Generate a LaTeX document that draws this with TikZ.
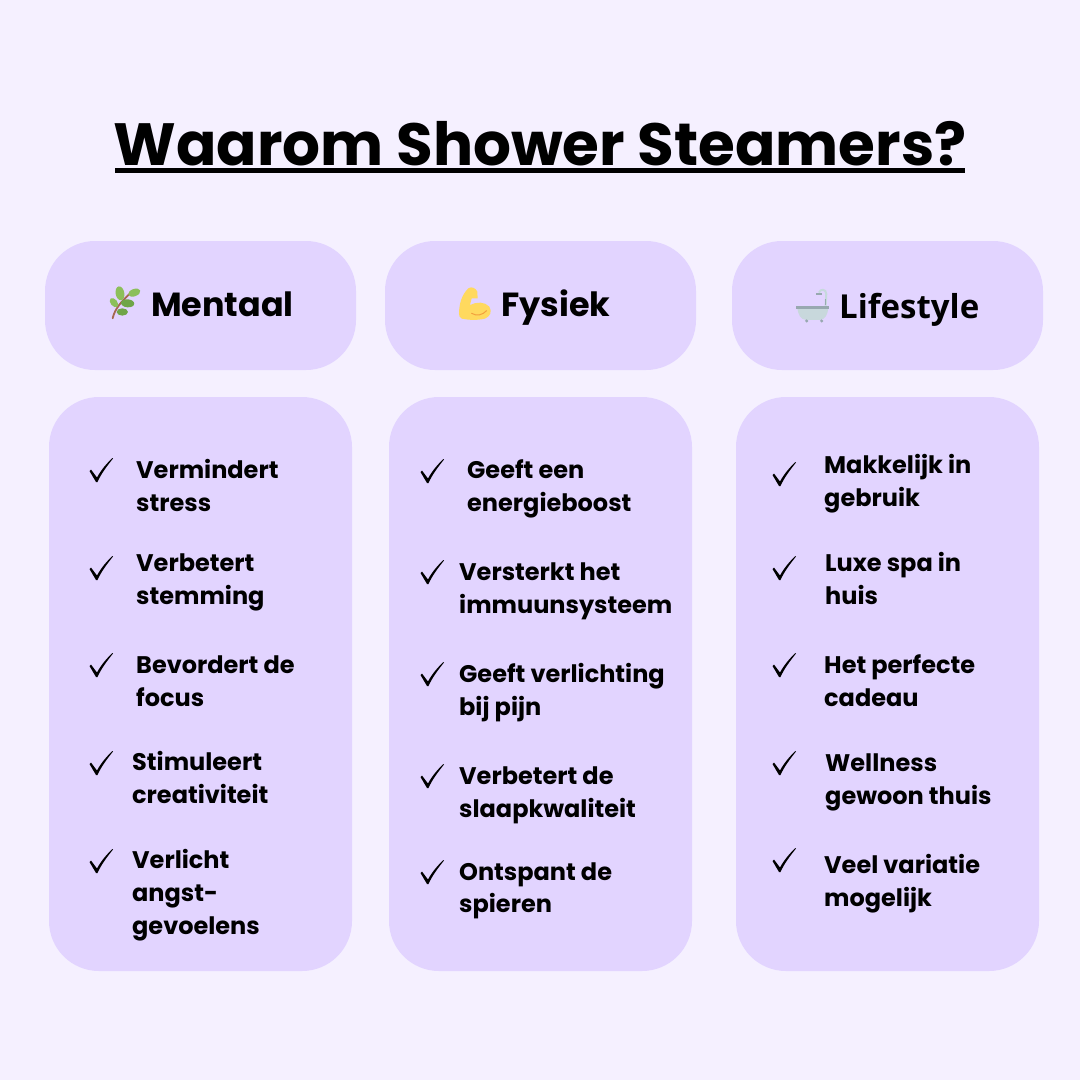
\documentclass[tikz,border=0pt]{standalone}
\usepackage{fontspec}
\setmainfont{Poppins}[UprightFont=* Bold,BoldFont=* Bold]
\newfontfamily\headfont{Open Sans}[UprightFont=* Bold,BoldFont=* Bold]
\definecolor{pagebg}{HTML}{F5F0FF}
\definecolor{cardbg}{HTML}{E2D4FF}
\definecolor{leafgreen}{HTML}{8CBF5A}
\definecolor{leafdark}{HTML}{6FA548}
\definecolor{stemcol}{HTML}{A5674F}
\definecolor{armcol}{HTML}{FFD95E}
\definecolor{armline}{HTML}{F2A03D}
\definecolor{tubcol}{HTML}{C8D8DC}
\definecolor{rimcol}{HTML}{98A8B0}
\definecolor{pipecol}{HTML}{C6D9DC}
\newcommand{\chk}[2]{\fill[black,shift={(#1,#2)}] (-11.5,1) -- (-10,-0.5) -- (-4,7.5) .. controls (0,0) and (6,-7) .. (11.5,-12) -- (12,-11.5) .. controls (6,-4) and (0,4) .. (-3.5,12) -- (-5,12) -- cycle;}
\tikzset{
 cardtop/.style={fill=cardbg,draw=none,rounded corners=50pt},
 itemtxt/.style={anchor=north west,inner sep=0pt,align=left,font=\fontsize{24}{33}\selectfont,text=black},
 headtxt/.style={anchor=base west,inner sep=0pt,font=\fontsize{33.4}{36}\selectfont,text=black},
}
\newcommand{\st}{\rule{0pt}{20pt}}
\begin{document}
\begin{tikzpicture}[x=1pt,y=-1pt]
\useasboundingbox (0,0) rectangle (1080,1080);
\fill[pagebg] (0,0) rectangle (1080,1080);
\node[anchor=base,inner sep=0pt,font=\fontsize{59.6}{66}\selectfont] (title) at (540,165) {Waarom Shower Steamers?};
\fill[black] (115,168) rectangle (965,173);
\fill[cardtop] (45,241) rectangle (356,370);
\fill[cardtop] (385,241) rectangle (696,370);
\fill[cardtop] (732,241) rectangle (1043,370);
\fill[cardtop] (49,397) rectangle (352,971);
\fill[cardtop] (389,397) rectangle (692,971);
\fill[cardtop] (736,397) rectangle (1039,971);
\node[headtxt] (h1) at (151,316) {Mentaal};
\node[headtxt] (h2) at (501,316) {Fysiek};
\node[headtxt,font=\headfont\fontsize{33}{36}\selectfont] (h3) at (839,318) {Lifestyle};
% sprig
\begin{scope}[shift={(90,270)},x=0.333pt,y=-0.333pt]
\draw[color=stemcol,line width=1.8pt,line cap=round] (68,145) .. controls (75,115) and (95,95) .. (118,72);
\fill[leafgreen] (90,70) ellipse [x radius=21,y radius=13,rotate=-80];
\fill[leafgreen] (133,68) ellipse [x radius=19,y radius=11,rotate=20];
\fill[leafdark] (113,100) ellipse [x radius=20,y radius=12,rotate=-5];
\fill[leafgreen] (72,98) ellipse [x radius=16,y radius=10,rotate=-50];
\fill[leafdark] (97,126) ellipse [x radius=17,y radius=11,rotate=0];
\end{scope}
% muscle
\begin{scope}[shift={(440,270)},x=0.333pt,y=-0.333pt]
\fill[armcol] (57,130) .. controls (58,100) and (65,75) .. (85,55) .. controls (95,48) and (108,55) .. (112,65) -- (113,85) -- (95,85) -- (90,105) .. controls (110,95) and (135,95) .. (148,110) .. controls (158,125) and (150,140) .. (135,146) .. controls (110,152) and (85,150) .. (65,146) .. controls (58,142) and (57,136) .. (57,130) -- cycle;
\draw[armline,line width=1pt,line cap=round] (95,130) .. controls (110,140) and (128,135) .. (140,122);
\end{scope}
% bath
\begin{scope}[shift={(780,270)},x=0.333pt,y=-0.333pt]
\draw[pipecol,line width=2pt] (137,108) -- (139,72) .. controls (139,56) and (120,56) .. (117,68);
\fill[rimcol] (108,68) rectangle (126,76);
\draw[rimcol,line width=0.6pt] (136,88) -- (136,106);
\fill[tubcol] (52,115) -- (145,115) .. controls (143,135) and (135,148) .. (120,150) -- (78,150) .. controls (62,148) and (55,135) .. (52,115) -- cycle;
\fill[rimcol] (48,108) rectangle (148,116);
\fill[rimcol] (80,153) circle (5);
\fill[rimcol] (125,153) circle (5);
\end{scope}
% column 1
\chk{101}{470}\chk{101}{568}\chk{101}{665}\chk{101}{763}\chk{101}{861}
\node[itemtxt] (a1) at (136,458) {\st Vermindert\\\st stress};
\node[itemtxt] (a2) at (136,551) {\st Verbetert\\\st stemming};
\node[itemtxt] (a3) at (136,653) {\st Bevordert de\\\st focus};
\node[itemtxt] (a4) at (132,750) {\st Stimuleert\\\st creativiteit};
\node[itemtxt] (a5) at (132,848) {\st Verlicht\\\st angst-\\\st gevoelens};
% column 2
\chk{432}{471}\chk{432}{572}\chk{432}{674}\chk{432}{776}\chk{432}{872}
\node[itemtxt] (b1) at (467,458) {\st Geeft een\\\st energieboost};
\node[itemtxt] (b2) at (459,560) {\st Versterkt het\\\st immuunsysteem};
\node[itemtxt] (b3) at (459,662) {\st Geeft verlichting\\\st bij pijn};
\node[itemtxt] (b4) at (459,764) {\st Verbetert de\\\st slaapkwaliteit};
\node[itemtxt] (b5) at (459,860) {\st Ontspant de\\[-1pt]\st spieren};
% column 3
\chk{784}{474}\chk{784}{568}\chk{784}{665}\chk{784}{763}\chk{784}{860}
\node[itemtxt] (c1) at (824,453) {\st Makkelijk in\\\st gebruik};
\node[itemtxt] (c2) at (825,551) {\st Luxe spa in\\\st huis};
\node[itemtxt] (c3) at (824,653) {\st Het perfecte\\\st cadeau};
\node[itemtxt] (c4) at (825,751) {\st Wellness\\\st gewoon thuis};
\node[itemtxt] (c5) at (824,853) {\st Veel variatie\\\st mogelijk};
\end{tikzpicture}
\end{document}
